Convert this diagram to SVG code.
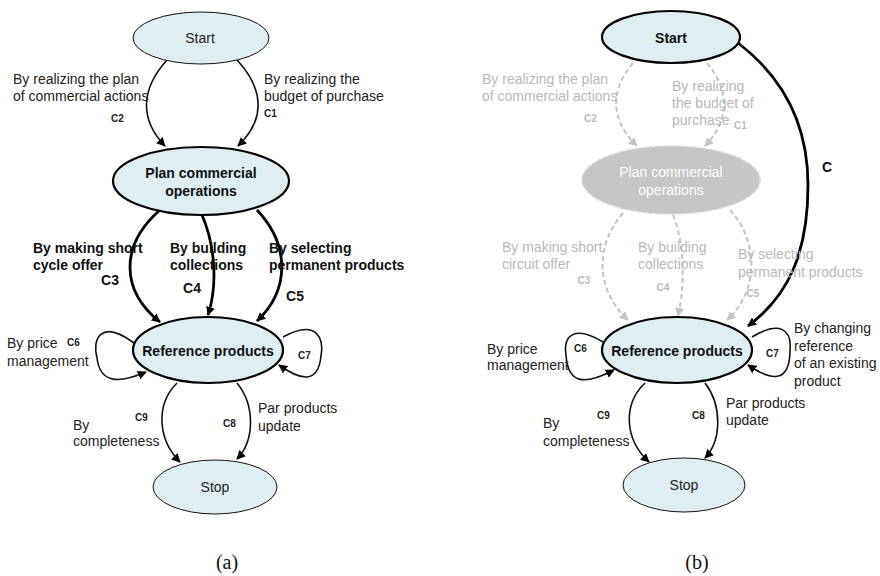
<svg xmlns="http://www.w3.org/2000/svg" width="880" height="576" viewBox="0 0 880 576">
<style>
.node{fill:#deeef3;stroke:#111;stroke-width:1}
.nodeb{fill:#deeef3;stroke:#000;stroke-width:2.2}
.ghost{fill:#c6c6c6;stroke:#d8d8d8;stroke-width:1.5;stroke-dasharray:4 2}
.t{font-family:"Liberation Sans",Arial,sans-serif;font-size:14px;fill:#222}
.tb{font-family:"Liberation Sans",Arial,sans-serif;font-size:14px;font-weight:bold;fill:#111}
.tg{font-family:"Liberation Sans",Arial,sans-serif;font-size:14px;fill:#b9b9b9}
.tw{font-family:"Liberation Sans",Arial,sans-serif;font-size:14px;fill:#fff}
.c{font-family:"Liberation Sans",Arial,sans-serif;font-size:10px;font-weight:bold;fill:#222}
.cg{font-family:"Liberation Sans",Arial,sans-serif;font-size:10px;font-weight:bold;fill:#bbb}
.cap{font-family:"Liberation Serif","Times New Roman",serif;font-size:20px;fill:#111}
.e{fill:none;stroke:#111;stroke-width:1.6;marker-end:url(#ah)}
.ek{fill:none;stroke:#000;stroke-width:2.8;marker-end:url(#ah)}
.ed{fill:none;stroke:#c4c4c4;stroke-width:2;stroke-dasharray:5 3;marker-end:url(#ahg)}
</style>
<defs>
<marker id="ah" viewBox="0 0 10 10" refX="9" refY="5" markerWidth="9" markerHeight="9" markerUnits="userSpaceOnUse" orient="auto"><path d="M0,0 L10,5 L0,10 z" fill="#000"/></marker>
<marker id="ahg" viewBox="0 0 10 10" refX="9" refY="5" markerWidth="9" markerHeight="9" markerUnits="userSpaceOnUse" orient="auto"><path d="M0,0 L10,5 L0,10 z" fill="#c4c4c4"/></marker>
</defs>
<rect width="880" height="576" fill="#fff"/>

<!-- Diagram (a) -->
<g id="a-connectors">
<path class="e" d="M167,60 C140,90 140,120 165,146"/>
<path class="e" d="M237,60 C265,90 265,120 238,146"/>
<path class="ek" d="M160,210 C120,245 120,290 160,322"/>
<path class="ek" d="M202,215 C215,245 218,285 208,315"/>
<path class="ek" d="M257,210 C290,245 290,290 257,321"/>
<path class="e" d="M134,343 C100,318 92,340 97,358 C100,383 118,384 146,372"/>
<path class="e" d="M283,337 C318,318 324,340 321,356 C318,385 300,380 279,365"/>
<path class="e" d="M177,383 C155,405 158,440 180,462"/>
<path class="e" d="M237,383 C255,405 255,440 237,459"/>
</g>
<g id="a-labels">
<text class="t" x="13" y="84">By realizing the plan</text>
<text class="t" x="13" y="101">of commercial actions</text>
<text class="c" x="111" y="122">C2</text>
<text class="t" x="264" y="84">By realizing the</text>
<text class="t" x="264" y="101">budget of purchase</text>
<text class="c" x="264" y="117">C1</text>
<text class="tb" x="33" y="253">By making short</text>
<text class="tb" x="33" y="270">cycle offer</text>
<text class="tb" x="110" y="285" text-anchor="middle">C3</text>
<text class="tb" x="170" y="253">By building</text>
<text class="tb" x="170" y="270">collections</text>
<text class="tb" x="192" y="293" text-anchor="middle">C4</text>
<text class="tb" x="269" y="253">By selecting</text>
<text class="tb" x="269" y="270">permanent products</text>
<text class="tb" x="295" y="301" text-anchor="middle">C5</text>
<text class="t" x="7" y="348">By price</text>
<text class="t" x="7" y="366">management</text>
<text class="c" x="67" y="346">C6</text>
<text class="c" x="298" y="359">C7</text>
<text class="c" x="135" y="421">C9</text>
<text class="t" x="73" y="430">By</text>
<text class="t" x="73" y="446">completeness</text>
<text class="c" x="223" y="427">C8</text>
<text class="t" x="258" y="413">Par products</text>
<text class="t" x="258" y="431">update</text>
<text class="cap" x="227" y="569" text-anchor="middle">(a)</text>
</g>
<g id="a-start"><ellipse class="node" cx="201" cy="38" rx="68" ry="26"/><text class="t" x="200" y="43" text-anchor="middle">Start</text></g>
<g id="a-plan"><ellipse class="nodeb" cx="201" cy="181" rx="88" ry="34"/><text class="tb" x="201" y="178" text-anchor="middle">Plan commercial</text><text class="tb" x="201" y="196" text-anchor="middle">operations</text></g>
<g id="a-ref"><ellipse class="nodeb" cx="208" cy="350" rx="75" ry="33"/><text class="tb" x="208" y="356" text-anchor="middle">Reference products</text></g>
<g id="a-stop"><ellipse class="node" cx="215" cy="487" rx="62" ry="27"/><text class="t" x="215" y="492" text-anchor="middle">Stop</text></g>

<!-- Diagram (b) -->
<g id="b-connectors">
<path class="ed" d="M633,63 C610,90 610,120 637,146"/>
<path class="ed" d="M707,63 C730,90 730,120 705,146"/>
<path class="ed" d="M623,213 C595,245 595,290 628,320"/>
<path class="ed" d="M673,215 C685,245 685,285 678,316"/>
<path class="ed" d="M730,210 C758,240 760,290 727,320"/>
<path class="ek" d="M738,43 C780,75 808,120 808,185 C808,250 790,295 748,326"/>
<path class="e" d="M603,342 C575,325 563,335 566,355 C568,385 585,385 614,370"/>
<path class="e" d="M752,337 C780,320 792,330 790,350 C790,385 770,380 748,365"/>
<path class="e" d="M645,383 C622,405 625,440 649,462"/>
<path class="e" d="M705,383 C722,405 722,440 705,458"/>
</g>
<g id="b-labels">
<text class="tg" x="482" y="84">By realizing the plan</text>
<text class="tg" x="482" y="101">of commercial actions</text>
<text class="cg" x="584" y="122">C2</text>
<text class="tg" x="672" y="91">By realizing</text>
<text class="tg" x="672" y="108">the budget of</text>
<text class="tg" x="672" y="125">purchase</text>
<text class="cg" x="734" y="129">C1</text>
<text class="tb" x="827" y="172" text-anchor="middle">C</text>
<text class="tg" x="502" y="252">By making short</text>
<text class="tg" x="502" y="269">circuit offer</text>
<text class="cg" x="584" y="284" text-anchor="middle">C3</text>
<text class="tg" x="638" y="252">By building</text>
<text class="tg" x="638" y="269">collections</text>
<text class="cg" x="663" y="291" text-anchor="middle">C4</text>
<text class="tg" x="738" y="259">By selecting</text>
<text class="tg" x="738" y="277">permanent products</text>
<text class="cg" x="753" y="297" text-anchor="middle">C5</text>
<text class="t" x="487" y="354">By price</text>
<text class="t" x="487" y="370">management</text>
<text class="c" x="574" y="352">C6</text>
<text class="c" x="766" y="357">C7</text>
<text class="t" x="794" y="333">By changing</text>
<text class="t" x="794" y="351">reference</text>
<text class="t" x="794" y="368">of an existing</text>
<text class="t" x="794" y="386">product</text>
<text class="c" x="597" y="419">C9</text>
<text class="t" x="543" y="428">By</text>
<text class="t" x="543" y="446">completeness</text>
<text class="c" x="692" y="419">C8</text>
<text class="t" x="726" y="408">Par products</text>
<text class="t" x="726" y="425">update</text>
<text class="cap" x="697" y="569" text-anchor="middle">(b)</text>
</g>
<g id="b-start"><ellipse class="nodeb" cx="671" cy="37" rx="69" ry="26"/><text class="tb" x="671" y="43" text-anchor="middle">Start</text></g>
<g id="b-plan"><ellipse class="ghost" cx="671" cy="180" rx="89" ry="34"/><text class="tw" x="671" y="177" text-anchor="middle">Plan commercial</text><text class="tw" x="671" y="195" text-anchor="middle">operations</text></g>
<g id="b-ref"><ellipse class="nodeb" cx="677" cy="350" rx="75" ry="33"/><text class="tb" x="677" y="356" text-anchor="middle">Reference products</text></g>
<g id="b-stop"><ellipse class="node" cx="684" cy="485" rx="61" ry="27"/><text class="t" x="684" y="490" text-anchor="middle">Stop</text></g>
</svg>
